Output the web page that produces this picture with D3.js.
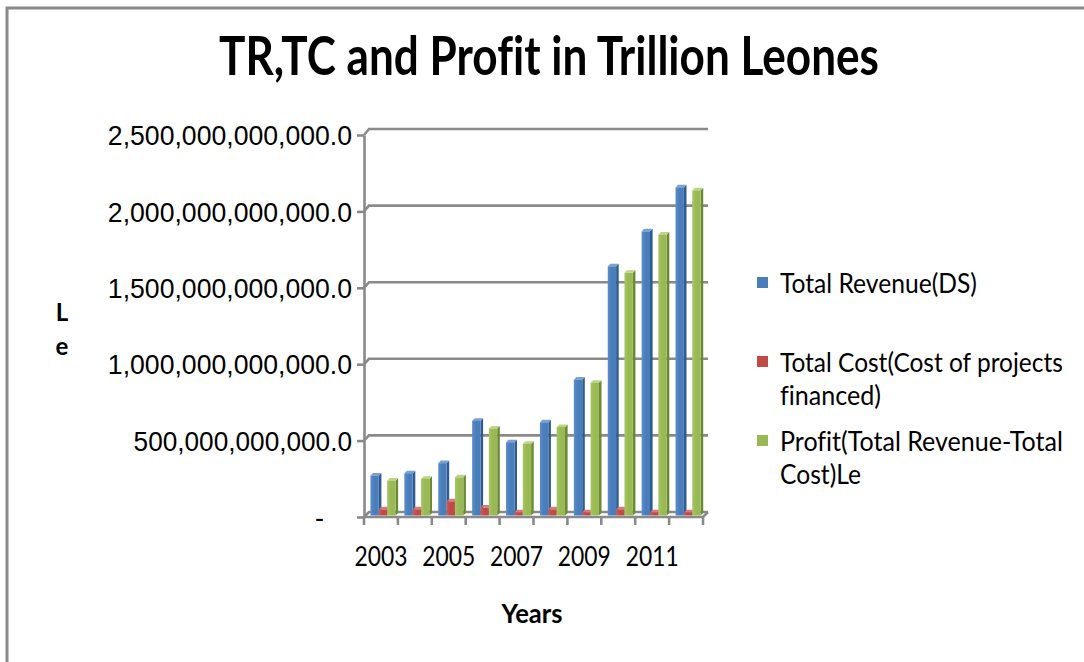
<!DOCTYPE html>
<html>
<head>
<meta charset="utf-8">
<script src="https://cdn.jsdelivr.net/npm/d3@7"></script>
<style>
  body { margin: 0; background: #ffffff; }
  svg { display: block; }
  text { font-variant-ligatures: none; }
</style>
</head>
<body>
<svg id="chart" width="1084" height="662"></svg>
<script>
// Years on the category axis
const years = [2003, 2004, 2005, 2006, 2007, 2008, 2009, 2010, 2011, 2012];
// Series values in Leones
const totalRevenue = [262e9, 277e9, 343e9, 620e9, 480e9, 610e9, 890e9, 1633e9, 1862e9, 2150e9];
const totalCost    = [40e9, 40e9, 92e9, 52e9, 20e9, 40e9, 20e9, 40e9, 20e9, 20e9];
const profit       = [228e9, 240e9, 250e9, 570e9, 470e9, 580e9, 870e9, 1590e9, 1840e9, 2130e9];
// Axis ticks
const yTicks = [0, 500e9, 1000e9, 1500e9, 2000e9, 2500e9];
const xTickLabels = [2003, 2005, 2007, 2009, 2011];
// Legend entries, wrapped as displayed
const seriesNames = ["Total Revenue(DS)", "Total Cost(Cost of projects financed)", "Profit(Total Revenue-Total Cost)Le"];
const legendLines = [["Total Revenue(DS)"], ["Total Cost(Cost of projects", "financed)"], ["Profit(Total Revenue-Total", "Cost)Le"]];

const series = [
  { name: seriesNames[0], values: totalRevenue, front: "#4a7ebb", side: "#2f5b8f", top: "#7aa1d2", light: "#5b8dca" },
  { name: seriesNames[1], values: totalCost,    front: "#be4b48", side: "#8d302e", top: "#d77b78", light: "#cb5d5a" },
  { name: seriesNames[2], values: profit,       front: "#98b954", side: "#6b8a33", top: "#bcd585", light: "#a6c664" }
];

const svg = d3.select("#chart");
const gridColor = "#8a8a8a";
const sans = "'Liberation Sans', Arial, sans-serif";
const calib = "Lato, 'Open Sans', sans-serif";

// Squeeze a text horizontally to a given width, anchored at its start
function fitWidth(sel, x, y, width) {
  const natural = sel.node().getComputedTextLength();
  sel.attr("x", 0).attr("y", 0)
    .attr("transform", `translate(${x},${y}) scale(${width / natural},1)`);
}

// chart area frame (top and left edges)
svg.append("path")
  .attr("d", "M7,662 L7,8 L1084,8")
  .attr("fill", "none").attr("stroke", gridColor).attr("stroke-width", 3);

// Title
svg.append("text")
  .attr("x", 549).attr("y", 75)
  .attr("text-anchor", "middle")
  .attr("font-family", calib).attr("font-weight", "bold").attr("font-size", 53)
  .attr("textLength", 660).attr("lengthAdjust", "spacingAndGlyphs")
  .attr("fill", "#000")
  .text("TR,TC and Profit in Trillion Leones");

// Scales: front edge of the floor/side wall, back wall, and bar faces
const x0 = 364, x1 = 703, depthX = 5;
const yFront = d3.scaleLinear().domain([0, 2500e9]).range([517, 135]);
const yBack  = d3.scaleLinear().domain([0, 2500e9]).range([512, 129]);
const yBar   = d3.scaleLinear().domain([0, 2500e9]).range([515.5, 134]);
const x = d3.scaleBand().domain(years).range([x0, x1]);
const bw = x.bandwidth();
const xs = d3.scaleBand().domain(d3.range(series.length)).range([0.19 * bw, 0.93 * bw]);

const walls = svg.append("g").attr("stroke", gridColor).attr("stroke-width", 2.6).attr("fill", "none");

// back-wall gridlines with their diagonal joins to the side wall
yTicks.forEach(v => {
  walls.append("path")
    .attr("d", `M${x0},${yFront(v)} L${x0 + depthX},${yBack(v)} L${x1 + depthX},${yBack(v)}`);
});
// floor front edge and right join
walls.append("path")
  .attr("d", `M${x0},${yFront(0)} L${x1},${yFront(0)} L${x1 + depthX},${yBack(0)}`);

// category boundary ticks
const bounds = years.map(d => x(d)).concat([x1]);
walls.selectAll("line.ct").data(bounds).enter().append("line")
  .attr("x1", d => d).attr("x2", d => d)
  .attr("y1", yFront(0)).attr("y2", yFront(0) + 8);

// value axis (side wall edge with tick stubs and labels)
const yAxis = d3.axisLeft(yFront)
  .tickValues(yTicks)
  .tickSize(7).tickSizeOuter(0).tickPadding(5)
  .tickFormat(v => v === 0 ? "-" : d3.format(",.1f")(v));
const gy = svg.append("g").attr("transform", `translate(${x0},0)`).call(yAxis);
gy.select(".domain").attr("stroke", gridColor).attr("stroke-width", 2.6);
gy.selectAll(".tick line").attr("stroke", gridColor).attr("stroke-width", 2.6);
gy.selectAll(".tick text")
  .attr("font-family", sans).attr("font-size", 27).attr("fill", "#000")
  .attr("dy", "0.36em")
  .each(function (v) {
    const t = d3.select(this);
    if (v === 0) { t.attr("text-anchor", "start").attr("x", -49); }
    else {
      const n = d3.format(",.1f")(v).length;
      t.attr("textLength", n * 12.85).attr("lengthAdjust", "spacingAndGlyphs");
    }
  });

// gradients for the bar fronts
const defs = svg.append("defs");
series.forEach((s, i) => {
  const g = defs.append("linearGradient").attr("id", "grad" + i)
    .attr("x1", "0%").attr("x2", "100%").attr("y1", "0%").attr("y2", "0%");
  g.append("stop").attr("offset", "0%").attr("stop-color", s.light);
  g.append("stop").attr("offset", "45%").attr("stop-color", s.front);
  g.append("stop").attr("offset", "100%").attr("stop-color", s.front);
});

// 3-D columns: front face, right side face and top face
const dx = 2.6, dy = 2.6;
const fw = xs.bandwidth();
const barsG = svg.append("g");
years.forEach((yr, j) => {
  series.forEach((s, i) => {
    const v = s.values[j];
    const left = x(yr) + xs(i);
    const top = yBar(v), bottom = yBar(0);
    const g = barsG.append("g");
    g.append("path")
      .attr("d", `M${left + fw},${top} L${left + fw + dx},${top - dy} L${left + fw + dx},${bottom - dy} L${left + fw},${bottom} Z`)
      .attr("fill", s.side);
    g.append("path")
      .attr("d", `M${left},${top} L${left + dx},${top - dy} L${left + fw + dx},${top - dy} L${left + fw},${top} Z`)
      .attr("fill", s.top);
    g.append("rect")
      .attr("x", left).attr("y", top)
      .attr("width", fw).attr("height", bottom - top)
      .attr("fill", `url(#grad${i})`);
  });
});

// category labels
const xAxis = d3.axisBottom(x).tickValues(xTickLabels).tickSize(0).tickPadding(0);
const gx = svg.append("g").attr("transform", `translate(0,${yFront(0)})`).call(xAxis);
gx.select(".domain").remove();
gx.selectAll(".tick text")
  .attr("font-family", calib).attr("font-size", 27).attr("fill", "#000")
  .attr("y", 49).attr("dy", 0)
  .attr("textLength", 53).attr("lengthAdjust", "spacingAndGlyphs");

// axis titles
svg.append("text")
  .attr("x", 532).attr("y", 623).attr("text-anchor", "middle")
  .attr("font-family", calib).attr("font-weight", "bold").attr("font-size", 27)
  .attr("textLength", 61).attr("lengthAdjust", "spacingAndGlyphs")
  .text("Years");
["L", "e"].forEach((c, i) => {
  svg.append("text")
    .attr("x", 62).attr("y", 321 + i * 34).attr("text-anchor", "middle")
    .attr("font-family", calib).attr("font-weight", "bold").attr("font-size", 24)
    .text(c);
});

// legend
const legendTop = [293, 372, 451];
const legendWidths = [[197], [283, 101], [283, 81]];
const lg = svg.append("g");
series.forEach((s, i) => {
  lg.append("rect")
    .attr("x", 757).attr("y", legendTop[i] - 16).attr("width", 11).attr("height", 11)
    .attr("fill", s.front);
  legendLines[i].forEach((line, k) => {
    const t = lg.append("text")
      .attr("font-family", calib).attr("font-size", 27).attr("fill", "#000")
      .text(line);
    fitWidth(t, 780, legendTop[i] + k * 33, legendWidths[i][k]);
  });
});
</script>
</body>
</html>
